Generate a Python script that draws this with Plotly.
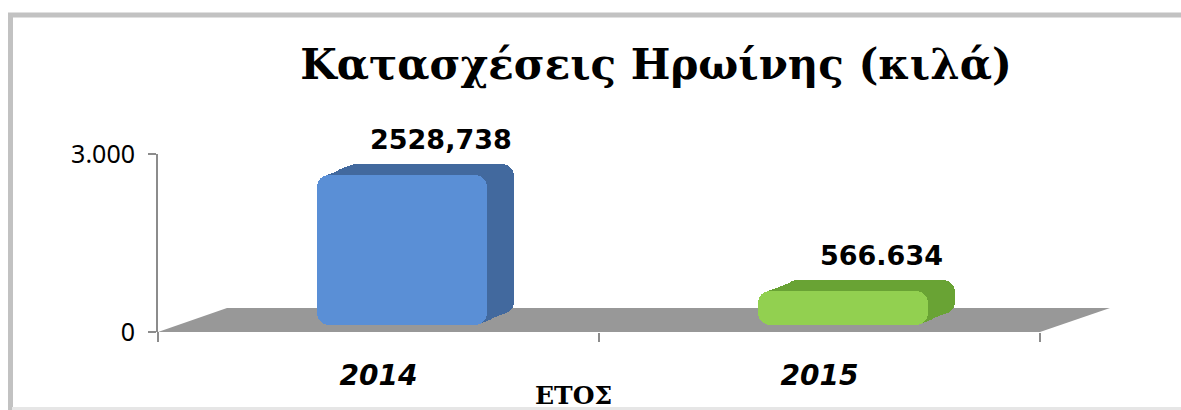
import plotly.graph_objects as go

# data
years = ["2014", "2015"]
seizures = [2528.738, 566.634]
value_labels = ["2528,738", "566.634"]
front_colors = ["#5a8fd6", "#92d050"]
side_colors = ["#42699e", "#69a334"]
y_ticks = [0, 3000]
y_tick_labels = ["0", "3.000"]

W, H = 1181, 410
L, R, T, B = 158, 1040, 154, 332   # plot area in pixels


def px(x):
    return (x - L) / (R - L)


def py(y):
    return (B - y) / (B - T)


units_per_px = 3000 / (B - T)
cat_per_px = 2 / (R - L)
lift = 7 * units_per_px        # bars stand in the middle of the floor
depth = 11 * units_per_px      # bar depth, vertical part
depth_x = 27 * cat_per_px      # bar depth, horizontal part
bar_w, bar_off = 0.385, -0.14

fig = go.Figure()

# extruded side / top of the 3d bars, from back to front
for f in [1.0, 0.8, 0.6, 0.4, 0.2]:
    fig.add_trace(go.Bar(
        x=years, y=seizures, base=[lift + depth * f] * len(years),
        width=bar_w, offset=bar_off + depth_x * f,
        marker=dict(color=side_colors, cornerradius=12, line=dict(width=0)),
        hoverinfo="skip",
    ))
# front face
fig.add_trace(go.Bar(
    x=years, y=seizures, base=[lift] * len(years),
    width=bar_w, offset=bar_off,
    marker=dict(color=front_colors, cornerradius=12, line=dict(width=0)),
))

shapes = [
    # gray floor
    dict(type="path", xref="paper", yref="paper", layer="below",
         path=f"M {px(L)},{py(B)} L {px(L + 69)},{py(B - 24)} "
              f"L {px(R + 70)},{py(B - 24)} L {px(R)},{py(B)} Z",
         fillcolor="#989898", line=dict(width=0)),
    # y axis line runs a little below zero
    dict(type="line", xref="paper", yref="paper",
         x0=0, x1=0, y0=py(B), y1=py(B + 9),
         line=dict(color="#8c8c8c", width=2)),
    # chart frame
    dict(type="line", xref="paper", yref="paper",
         x0=px(8), x1=px(W + 5), y0=py(15), y1=py(15),
         line=dict(color="#c2c2c2", width=5)),
    dict(type="line", xref="paper", yref="paper",
         x0=px(10.5), x1=px(10.5), y0=py(13), y1=py(H + 5),
         line=dict(color="#c2c2c2", width=5)),
    dict(type="line", xref="paper", yref="paper",
         x0=px(12), x1=px(W + 5), y0=py(408.5), y1=py(408.5),
         line=dict(color="#e6e6e6", width=3)),
]

annotations = [
    dict(x=i, y=v + lift + depth, xref="x", yref="y", text=f"<b>{t}</b>",
         showarrow=False, xshift=62, yshift=7, yanchor="bottom",
         font=dict(family="DejaVu Sans", size=27, color="black"))
    for i, (v, t) in enumerate(zip(seizures, value_labels))
]
annotations.append(dict(
    x=px(573), y=py(395), xref="paper", yref="paper", text="<b>ΕΤΟΣ</b>",
    showarrow=False, yanchor="middle",
    font=dict(family="DejaVu Serif", size=25, color="black")))

fig.update_layout(
    width=W, height=H,
    margin=dict(l=L, r=W - R, t=T, b=H - B, pad=0),
    paper_bgcolor="white", plot_bgcolor="white",
    showlegend=False,
    title=dict(text="<b>Κατασχέσεις Ηρωίνης (κιλά)</b>",
               x=656 / W, xanchor="center", y=1 - 64 / H, yanchor="middle",
               font=dict(family="DejaVu Serif", size=42, color="black")),
    xaxis=dict(type="category", range=[-0.5, 1.5], tickson="boundaries",
               ticks="outside", ticklen=9, tickcolor="#8c8c8c", tickwidth=2,
               showline=False, showgrid=False, zeroline=False,
               tickfont=dict(family="DejaVu Sans", size=28, color="black",
                             weight="bold", style="italic"),
               ticklabelstandoff=24),
    yaxis=dict(range=[0, 3000], tickvals=y_ticks, ticktext=y_tick_labels,
               ticks="outside", ticklen=8, tickcolor="#8c8c8c", tickwidth=2,
               showline=True, linecolor="#8c8c8c", linewidth=2,
               showgrid=False, zeroline=False,
               tickfont=dict(family="Noto Sans", size=25, color="black"),
               ticklabelstandoff=8),
    shapes=shapes,
    annotations=annotations,
    bargap=0,
)

fig.write_html("out.html", config={"displayModeBar": False},
               post_script="document.body.style.margin='0';")
